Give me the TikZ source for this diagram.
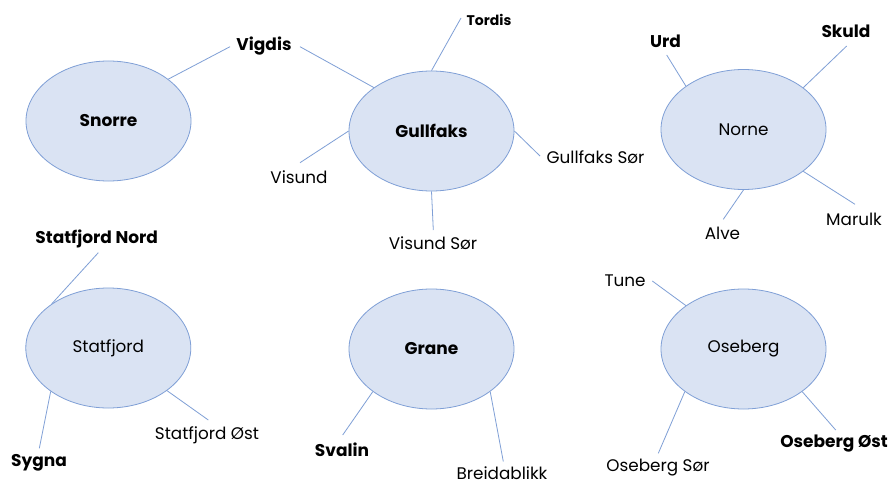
\documentclass[tikz,border=0pt]{standalone}
\usepackage{fontspec}
\setmainfont{Poppins}
\usetikzlibrary{shapes.geometric}
\definecolor{fieldfill}{HTML}{DAE3F3}
\definecolor{fieldline}{HTML}{7F9FD6}
\tikzset{
  field/.style={ellipse, draw=fieldline, fill=fieldfill, line width=0.8pt,
    minimum width=165pt, minimum height=120pt, inner sep=0pt},
  link/.style={draw=fieldline, line width=0.8pt},
  boldlbl/.style={font=\fontsize{17}{19}\selectfont\bfseries, inner sep=0pt},
  smallbold/.style={font=\fontsize{14}{16}\selectfont\bfseries, inner sep=0pt},
  reglbl/.style={font=\fontsize{16.8}{19}\selectfont, inner sep=0pt},
}
\begin{document}
\begin{tikzpicture}[x=1pt, y=-1pt]
\useasboundingbox (0,0) rectangle (891,484);
\fill[white] (0,0) rectangle (891,484);

% main fields
\node[field, boldlbl] (snorre)   at (108.5,121) {Snorre};
\node[field, boldlbl] (gullfaks) at (431.5,131) {Gullfaks};
\node[field, reglbl]  (norne)    at (743.5,129.5) {Norne};
\node[field, reglbl]  (statfjord) at (108.3,348) {Statfjord};
\node[field, boldlbl] (grane)    at (431.5,349) {Grane};
\node[field, reglbl]  (oseberg)  at (743.5,349) {Oseberg};

% satellite fields
\node[boldlbl]   (vigdis)   at (264,46)    {Vigdis};
\node[smallbold] (tordis)   at (489,20)    {Tordis};
\node[reglbl]    (visund)   at (299,177)   {Visund};
\node[reglbl]    (visundS)  at (433,243)   {Visund Sør};
\node[reglbl]    (gullfaksS) at (595.5,157) {Gullfaks Sør};
\node[boldlbl]   (urd)      at (665.5,41)  {Urd};
\node[boldlbl]   (skuld)    at (846,31)    {Skuld};
\node[reglbl]    (alve)     at (722.5,233) {Alve};
\node[reglbl]    (marulk)   at (854,219)   {Marulk};
\node[boldlbl]   (statN)    at (96.7,239)  {Statfjord Nord};
\node[boldlbl]   (sygna)    at (39,463)    {Sygna};
\node[reglbl]    (statO)    at (207,435)   {Statfjord Øst};
\node[boldlbl]   (svalin)   at (342,450)   {Svalin};
\node[reglbl]    (breida)   at (502,473.5) {Breidablikk};
\node[reglbl]    (tune)     at (625,281)   {Tune};
\node[reglbl]    (osebergS) at (658,468)   {Oseberg Sør};
\node[boldlbl]   (osebergO) at (834,444)   {Oseberg Øst};

% free ends of the connectors, next to the labels
\coordinate (cVigdisL) at (230,46.7);
\coordinate (cVigdisR) at (300,46.7);
\coordinate (cTordis)  at (461,18);
\coordinate (cVisund)  at (300,162.7);
\coordinate (cVisundS) at (433.3,230);
\coordinate (cGullS)   at (540,156);
\coordinate (cUrd)     at (666.7,55);
\coordinate (cSkuld)   at (846.7,46);
\coordinate (cAlve)    at (723.3,219.3);
\coordinate (cMarulk)  at (855,204.3);
\coordinate (cStatN)   at (98.3,252.7);
\coordinate (cSygna)   at (39.3,448.3);
\coordinate (cStatO)   at (208.3,420);
\coordinate (cSvalin)  at (342.7,435);
\coordinate (cBreida)  at (503.3,461.5);
\coordinate (cTune)    at (652.3,281);
\coordinate (cOseS)    at (658.3,453.3);
\coordinate (cOseO)    at (835.7,430);

% connectors
\draw[link] (snorre.35.8) -- (cVigdisL);
\draw[link] (gullfaks.143.6) -- (cVigdisR);
\draw[link] (gullfaks.90) -- (cTordis);
\draw[link] (gullfaks.180) -- (cVisund);
\draw[link] (gullfaks.270) -- (cVisundS);
\draw[link] (gullfaks.0) -- (cGullS);
\draw[link] (norne.143.7) -- (cUrd);
\draw[link] (norne.35.7) -- (cSkuld);
\draw[link] (norne.270) -- (cAlve);
\draw[link] (norne.-35.2) -- (cMarulk);
\draw[link] (statfjord.142.8) -- (cStatN);
\draw[link] (statfjord.217.6) -- (cSygna);
\draw[link] (statfjord.-36.4) -- (cStatO);
\draw[link] (grane.216) -- (cSvalin);
\draw[link] (grane.-36) -- (cBreida);
\draw[link] (oseberg.143.6) -- (cTune);
\draw[link] (oseberg.216.5) -- (cOseS);
\draw[link] (oseberg.-36.4) -- (cOseO);
\end{tikzpicture}
\end{document}
